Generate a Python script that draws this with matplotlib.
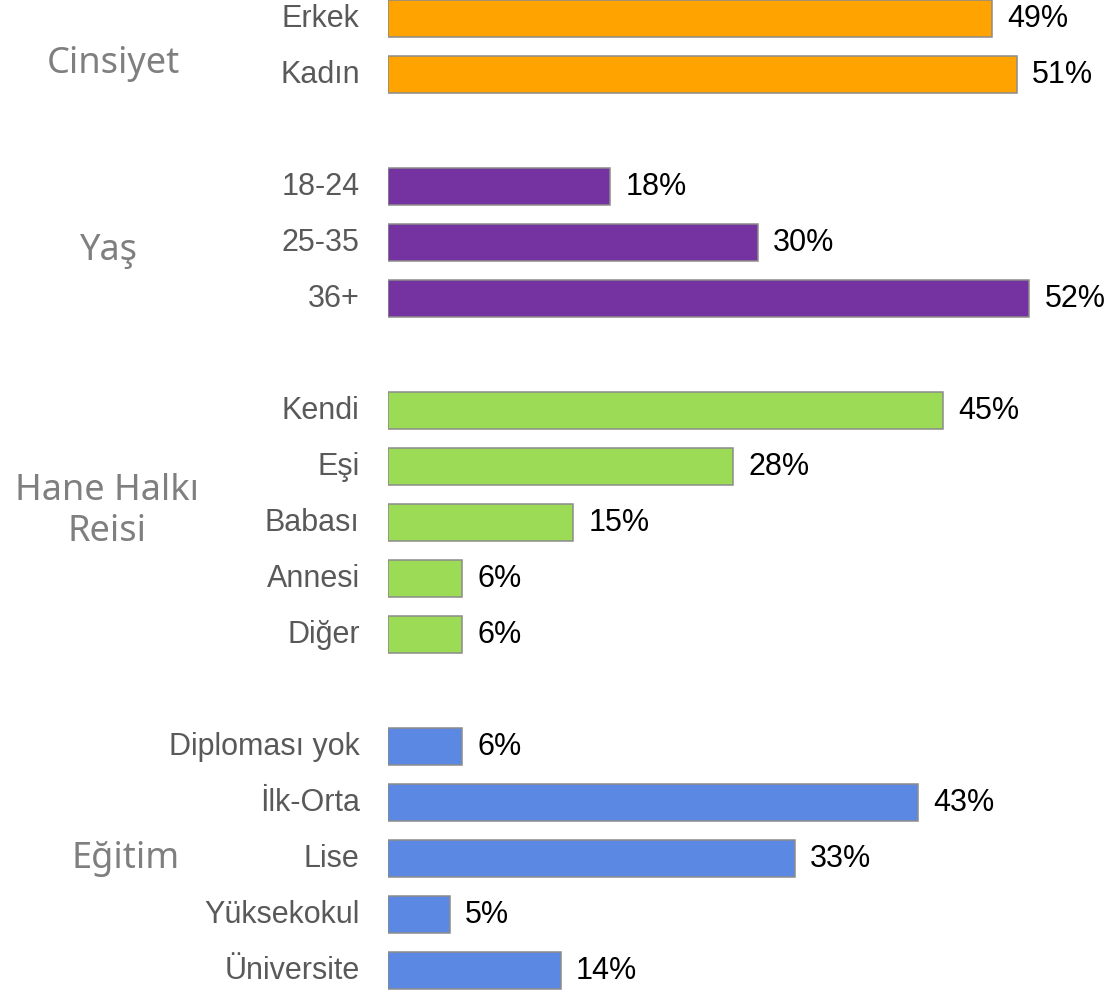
import matplotlib
matplotlib.use("Agg")
import matplotlib.pyplot as plt
import numpy as np

# data
groups = ["Cinsiyet", "Yaş", "Hane Halkı\nReisi", "Eğitim"]
labels = [
    ["Erkek", "Kadın"],
    ["18-24", "25-35", "36+"],
    ["Kendi", "Eşi", "Babası", "Annesi", "Diğer"],
    ["Diploması yok", "İlk-Orta", "Lise", "Yüksekokul", "Üniversite"],
]
values = [
    [49, 51],
    [18, 30, 52],
    [45, 28, 15, 6, 6],
    [6, 43, 33, 5, 14],
]
colors = ["#FFA300", "#7532A1", "#9BDB55", "#5B88E3"]

fig = plt.figure(figsize=(11.11, 9.93), dpi=100)
ax = fig.add_axes([388 / 1111, 0, 715 / 1111, 1])

row = 0
group_pos = []
for g, (labs, vals, col) in enumerate(zip(labels, values, colors)):
    ys = np.arange(row, row + len(vals))
    ax.barh(ys, vals, height=0.66, color=col, edgecolor="#8c8c8c", linewidth=1.1)
    for y, v, lab in zip(ys, vals, labs):
        ax.text(v + 1.25, y, f"{v}%", va="center", ha="left",
                fontsize=22, family="Liberation Sans", color="black")
        ax.text(-2.3, y, lab, va="center", ha="right",
                fontsize=22, family="Liberation Sans", color="#595959")
    group_pos.append(ys.mean())
    row += len(vals) + 1

offsets = [0.32, 0.15, -0.2, 0.0]
xs = [-22.3, -22.6, -22.8, -21.3]
for gname, gy, off, gx in zip(groups, group_pos, offsets, xs):
    ax.text(gx, gy + off, gname, va="center", ha="center",
            fontsize=26, family="Noto Sans", color="#7f7f7f", linespacing=1.2)

ax.set_xlim(0, 58)
ax.set_ylim(17 + 22 / 56, -18.5 / 56)
ax.axis("off")

fig.savefig("out.png", dpi=100)
